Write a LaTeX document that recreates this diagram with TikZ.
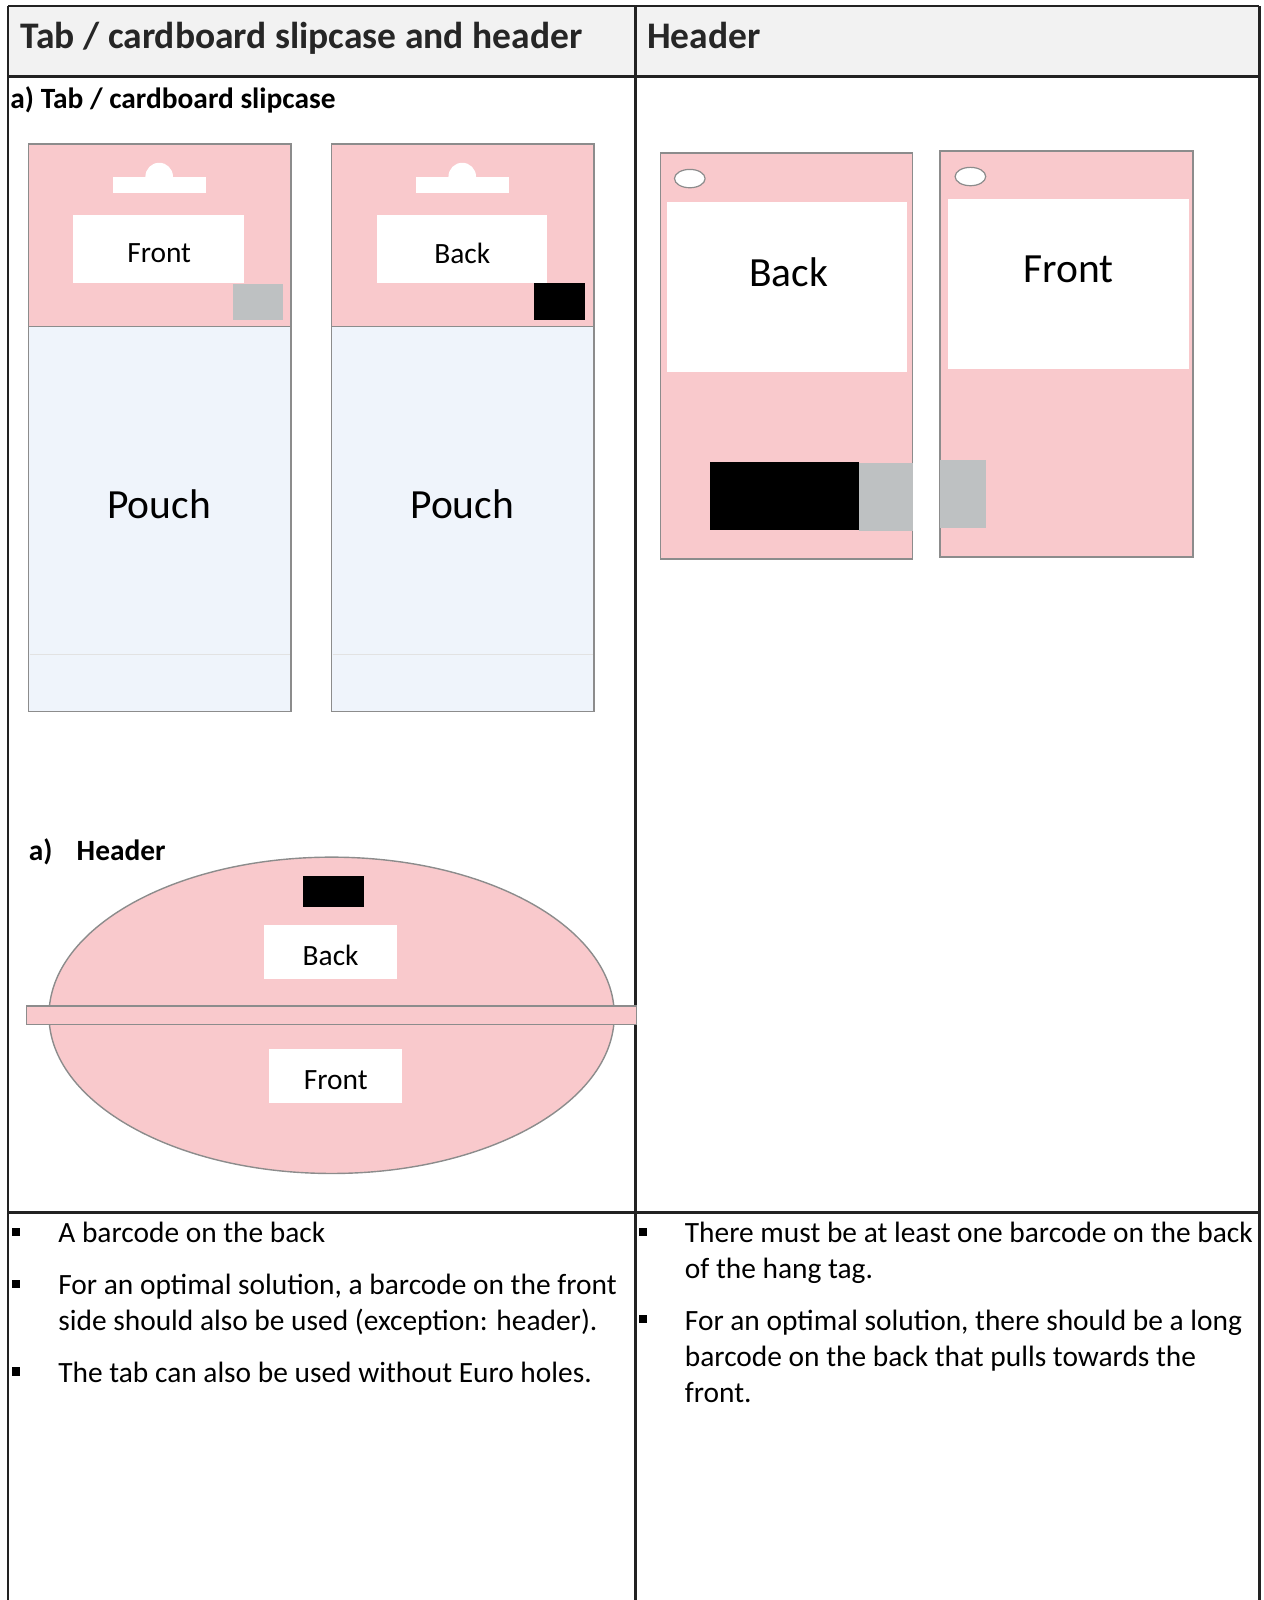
\documentclass[tikz,border=0pt]{standalone}
\usepackage{fontspec}
\setmainfont{Carlito}
\definecolor{pinkfill}{RGB}{249,201,204}
\definecolor{panelborder}{RGB}{140,140,140}
\definecolor{pouchfill}{RGB}{239,244,251}
\definecolor{graybar}{RGB}{190,193,194}
\definecolor{headerbg}{RGB}{242,242,242}
\definecolor{tableline}{RGB}{34,34,34}
\tikzset{
  tline/.style={draw=tableline, line width=2.6bp},
  pinkpanel/.style={fill=pinkfill, draw=panelborder, line width=1.4bp},
  pouchpanel/.style={fill=pouchfill, draw=panelborder, line width=1.4bp},
  hole/.style={fill=white, draw=panelborder, line width=1.2bp},
  bodytext/.style={font=\fontsize{29.4bp}{35.7bp}\selectfont, inner sep=0pt, anchor=base west},
  boldhead/.style={font=\fontsize{37.5bp}{44bp}\selectfont\bfseries, inner sep=0pt, anchor=base west, text=black!85},
  boldsub/.style={font=\fontsize{29.4bp}{35bp}\selectfont\bfseries, inner sep=0pt, anchor=base west},
  boxlabel/.style={font=\fontsize{29.4bp}{35bp}\selectfont, inner sep=0pt},
  biglabel/.style={font=\fontsize{41.5bp}{48bp}\selectfont, inner sep=0pt},
  bulletsq/.style={fill=black, draw=none},
}
\begin{document}
\begin{tikzpicture}[x=1.0202bp, y=-1.0202bp]
\useasboundingbox (0,0) rectangle (1238,1568);
% ---------- table ----------
\fill[headerbg] (8,6) rectangle (1234,75);
\draw[tline] (8,6) -- (1234,6);
\draw[tline] (8,75) -- (1234,75);
\draw[tline] (8,1188) -- (1234,1188);
\draw[tline] (8,6) -- (8,1568);
\draw[tline] (623,6) -- (623,1568);
\draw[tline] (1234,6) -- (1234,1568);
\node[boldhead] (title1) at (20,48) {Tab / cardboard slipcase and header};
\node[boldhead] (title2) at (634,48) {Header};
\node[boldsub] (sub1) at (10,106) {a) Tab / cardboard slipcase};
% ---------- tab panel 1 ----------
\draw[pouchpanel] (28,320) rectangle (285,697);
\draw[panelborder!25, line width=0.6bp] (29,641) -- (284,641);
\draw[pinkpanel] (28,141) rectangle (285,320);
\fill[white] (156,173) circle (13.5);
\fill[white] (111,173) rectangle (202,189);
\fill[white] (72,211) rectangle (239,277);
\node[boxlabel] (f1) at (156,248) {Front};
\fill[graybar] (228,278) rectangle (277,314);
\node[biglabel] (p1) at (156,494) {Pouch};
% ---------- tab panel 2 ----------
\draw[pouchpanel] (325,320) rectangle (582,697);
\draw[panelborder!25, line width=0.6bp] (326,641) -- (581,641);
\draw[pinkpanel] (325,141) rectangle (582,320);
\fill[white] (453,173) circle (13.5);
\fill[white] (408,173) rectangle (499,189);
\fill[white] (369,211) rectangle (536,277);
\node[boxlabel] (b1) at (453,248) {Back};
\fill[black] (523,277) rectangle (573,314);
\node[biglabel] (p2) at (453,494) {Pouch};
% ---------- hang tags (right) ----------
\draw[pinkpanel] (647,150) rectangle (894,548);
\draw[hole] (676,175) ellipse [x radius=15, y radius=9];
\fill[white] (654,198) rectangle (889,365);
\node[biglabel] (b2) at (773,267) {Back};
\fill[black] (696,453) rectangle (842,519);
\fill[graybar] (842,454) rectangle (895,520);
\draw[pinkpanel] (921,148) rectangle (1169,546);
\draw[hole] (951,173) ellipse [x radius=15, y radius=9];
\fill[white] (929,195) rectangle (1165,362);
\node[biglabel] (f2) at (1047,264) {Front};
\fill[graybar] (921,451) rectangle (966,517);
% ---------- header ----------
\node[boldsub] (ha) at (28,843) {a)};
\node[boldsub] (hh) at (75,843) {Header};
\draw[pinkpanel] (325,995) ellipse [x radius=277, y radius=155];
\fill[black] (297,858) rectangle (357,889);
\fill[white] (259,906) rectangle (389,959);
\node[boxlabel] (b3) at (324,936) {Back};
\draw[pinkpanel] (26,986) rectangle (624,1004);
\fill[white] (264,1028) rectangle (394,1081);
\node[boxlabel] (f3) at (329,1059) {Front};
% ---------- bullets left ----------
\fill[bulletsq] (12,1203) rectangle (20,1211);
\node[bodytext] (l1) at (57,1218) {A barcode on the back};
\fill[bulletsq] (12,1254) rectangle (20,1262);
\node[bodytext] (l2) at (57,1269) {For an optimal solution, a barcode on the front};
\node[bodytext] (l3) at (57,1304) {side should also be used (exception: header).};
\fill[bulletsq] (12,1340) rectangle (20,1348);
\node[bodytext] (l4) at (57,1355) {The tab can also be used without Euro holes.};
% ---------- bullets right ----------
\fill[bulletsq] (626,1203) rectangle (634,1211);
\node[bodytext] (r1) at (671,1218) {There must be at least one barcode on the back};
\node[bodytext] (r2) at (671,1253) {of the hang tag.};
\fill[bulletsq] (626,1289) rectangle (634,1297);
\node[bodytext] (r3) at (671,1304) {For an optimal solution, there should be a long};
\node[bodytext] (r4) at (671,1339) {barcode on the back that pulls towards the};
\node[bodytext] (r5) at (671,1374) {front.};
\end{tikzpicture}
\end{document}
